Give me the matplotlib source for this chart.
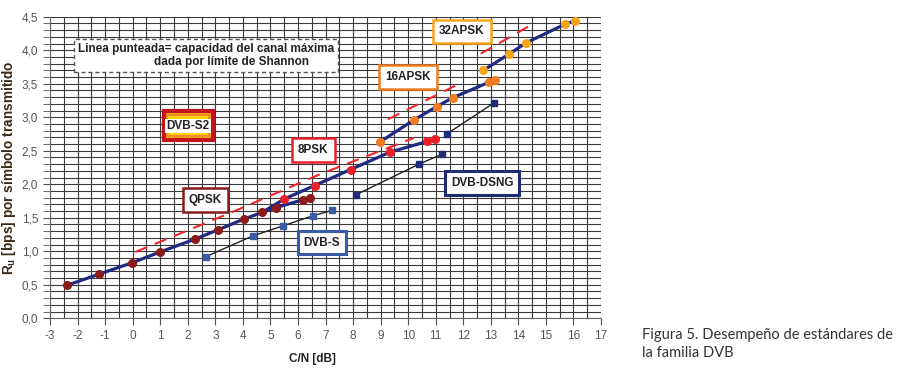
import matplotlib.pyplot as plt
import matplotlib.patches as patches
import numpy as np

plt.rcParams['font.family'] = ['Liberation Sans', 'DejaVu Sans']
plt.rcParams['axes.unicode_minus'] = False

# DVB-S2 curves (C/N dB, Ru bps/symbol)
qpsk_x = [-2.40, -1.21, -0.01, 1.00, 2.25, 3.10, 4.03, 4.70, 5.19, 6.19, 6.43]
qpsk_y = [0.49, 0.66, 0.83, 0.99, 1.18, 1.32, 1.48, 1.58, 1.65, 1.77, 1.79]
psk8_x = [5.50, 6.60, 7.91, 9.34, 10.70, 10.99]
psk8_y = [1.78, 1.98, 2.22, 2.48, 2.64, 2.67]
apsk16_x = [8.97, 10.21, 11.04, 11.61, 12.92, 13.14]
apsk16_y = [2.63, 2.96, 3.16, 3.29, 3.52, 3.56]
apsk32_x = [12.73, 13.65, 14.28, 15.70, 16.05]
apsk32_y = [3.70, 3.94, 4.11, 4.39, 4.44]

# DVB-S and DVB-DSNG
dvbs_x = [2.66, 4.36, 5.46, 6.54, 7.24]
dvbs_y = [0.92, 1.23, 1.38, 1.53, 1.61]
dsng1_x = [8.09, 10.39, 11.24]
dsng1_y = [1.84, 2.30, 2.45]
dsng2_x = [11.40, 13.10]
dsng2_y = [2.75, 3.21]

# Shannon limit (dashed)
sh1_x = [0.1, 3.7, 6.8, 10.2]
sh1_y = [0.99, 1.60, 2.15, 2.69]
sh2_x = [9.27, 11.8]
sh2_y = [2.97, 3.49]
sh3_x = [12.64, 14.52]
sh3_y = [3.95, 4.39]

navy = '#1f2a80'
c_qpsk = '#8b1a1a'
c_8psk = '#e8202a'
c_16 = '#f07d22'
c_32 = '#f9a51a'
c_s = '#3a5ba8'
c_dsng = '#1f2a78'
c_sh = '#f0282d'

fig = plt.figure(figsize=(9.21, 3.69), dpi=100)
ax = fig.add_axes([0.0543, 0.1374, 0.5983, 0.8173])

ax.set_xlim(-3, 17)
ax.set_ylim(0, 4.5)
ax.set_xticks(np.arange(-3, 18, 1))
ax.set_yticks(np.arange(0, 4.51, 0.5))
ax.set_yticks(np.arange(0, 4.51, 0.1), minor=True)
ax.set_xticks(np.arange(-3, 17.01, 0.5), minor=True)
ax.set_yticklabels([('%.1f' % v).replace('.', ',') for v in np.arange(0, 4.51, 0.5)])
ax.grid(True, which='both', color='#3a3a3a', lw=0.8)
ax.set_axisbelow(True)
ax.tick_params(which='major', length=5, color='#555555', labelsize=8.5, labelcolor='#555555')
ax.tick_params(which='minor', length=5, color='#555555')
ax.tick_params(axis='x', which='minor', length=0)
for s in ['top', 'right']:
    ax.spines[s].set_visible(False)
for s in ['left', 'bottom']:
    ax.spines[s].set_color('#666666')

# Shannon dashed
for xs, ys in [(sh1_x, sh1_y), (sh2_x, sh2_y), (sh3_x, sh3_y)]:
    ax.plot(xs, ys, color=c_sh, lw=1.5, dashes=(6, 4), zorder=3)

# DVB-S2 lines
ax.plot(qpsk_x, qpsk_y, color=navy, lw=2.3, zorder=4)
ax.plot([qpsk_x[7]] + psk8_x, [qpsk_y[7]] + psk8_y, color=navy, lw=2.3, zorder=4)
ax.plot(apsk16_x, apsk16_y, color=navy, lw=2.3, zorder=4)
ax.plot(apsk32_x, apsk32_y, color=navy, lw=2.3, zorder=4)
ax.plot(qpsk_x, qpsk_y, 'o', color=c_qpsk, ms=5.5, zorder=5)
ax.plot(psk8_x, psk8_y, 'o', color=c_8psk, ms=5.5, zorder=5)
ax.plot(apsk16_x, apsk16_y, 'o', color=c_16, ms=5.5, zorder=5)
ax.plot(apsk32_x, apsk32_y, 'o', color=c_32, ms=5.5, zorder=5)

# DVB-S / DSNG
ax.plot(dvbs_x, dvbs_y, color='#222222', lw=1, zorder=4)
ax.plot(dvbs_x, dvbs_y, 's', color=c_s, ms=5, zorder=5)
for xs, ys in [(dsng1_x, dsng1_y), (dsng2_x, dsng2_y)]:
    ax.plot(xs, ys, color='#222222', lw=1, zorder=4)
    ax.plot(xs, ys, 's', color=c_dsng, ms=5, zorder=5)

# Label boxes
def label(x, y, txt, ec, lw=1.8, fs=8.5):
    ax.text(x, y, txt, ha='center', va='center', fontsize=fs, fontweight='bold',
            color='#222222', zorder=6,
            bbox=dict(boxstyle='square,pad=0.5', fc='white', ec=ec, lw=lw))

label(6.56, 2.51, '8PSK', c_8psk)
label(2.63, 1.76, 'QPSK', c_qpsk)
label(10.0, 3.60, '16APSK', c_16)
label(11.95, 4.28, '32APSK', c_32)
label(12.68, 2.02, 'DVB-DSNG', c_dsng, lw=2.2)
label(6.87, 1.13, 'DVB-S', c_s, lw=2.2)

# DVB-S2 badge
ax.add_patch(patches.Rectangle((1.12, 2.66), 1.78, 0.43, fc='#f6b21a', ec='#c0161b', lw=3, zorder=6))
ax.add_patch(patches.Rectangle((1.25, 2.72), 1.52, 0.31, fc='#fbd300', ec='#f08a22', lw=1.5, zorder=6))
ax.text(2.01, 2.87, 'DVB-S2', ha='center', va='center', fontsize=8.5, fontweight='bold',
        color='#222222', zorder=7,
        bbox=dict(boxstyle='square,pad=0.1', fc='white', ec='none'))

# Shannon note
ax.text(2.66, 3.92, 'Linea punteada= capacidad del canal máxima\n                dada por límite de Shannon',
        ha='center', va='center', fontsize=8.5, fontweight='bold', color='#222222',
        linespacing=1.05, zorder=6,
        bbox=dict(boxstyle='square,pad=0.35', fc='white', ec='#555555', lw=1, ls=(0, (3, 2))))

ax.set_xlabel('C/N [dB]', fontsize=8.5, fontweight='bold', color='#222222')
ax.xaxis.set_label_coords(0.477, -0.115)
ax.set_ylabel(r'R$_\mathregular{u}$ [bps] por símbolo transmitido', fontsize=9.8,
              fontweight='bold', color='#3a2a1a')
ax.yaxis.set_label_coords(-0.058, 0.5)

fig.text(0.697, 0.025, 'Figura 5. Desempeño de estándares de\nla familia DVB', fontsize=10.5,
         family='Lato', color='#333333', linespacing=1.3, va='bottom')

fig.savefig('out.png', dpi=100)
